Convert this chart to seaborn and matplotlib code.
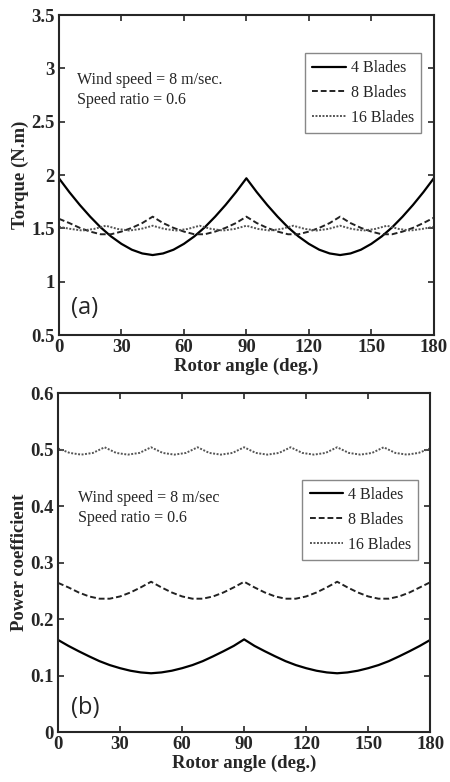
import numpy as np
import pandas as pd
import matplotlib
matplotlib.use("Agg")
import matplotlib.pyplot as plt
import seaborn as sns
from matplotlib.ticker import FuncFormatter

# rotor angle grids (deg.)
angle_5 = np.arange(0, 181, 5)          # for 4 and 8 blades
angle_16 = np.linspace(0, 180, 33)      # finer for 16 blades

labels = ["4 Blades", "8 Blades", "16 Blades"]

# (a) torque (N.m)
torque_4 = [1.97, 1.84, 1.72, 1.61, 1.51, 1.425, 1.355, 1.30, 1.265, 1.25,
            1.265, 1.30, 1.355, 1.425, 1.51, 1.61, 1.72, 1.84, 1.97,
            1.84, 1.72, 1.61, 1.51, 1.425, 1.355, 1.30, 1.265, 1.25,
            1.265, 1.30, 1.355, 1.425, 1.51, 1.61, 1.72, 1.84, 1.97]
torque_8 = [1.59, 1.55, 1.505, 1.47, 1.445, 1.445, 1.47, 1.505, 1.55,
            1.61, 1.55, 1.505, 1.47, 1.445, 1.445, 1.47, 1.505, 1.55,
            1.61, 1.55, 1.505, 1.47, 1.445, 1.445, 1.47, 1.505, 1.55,
            1.61, 1.55, 1.505, 1.47, 1.445, 1.445, 1.47, 1.505, 1.55,
            1.60]
torque_16 = [1.515, 1.495, 1.48, 1.495, 1.525, 1.495, 1.48, 1.495,
             1.525, 1.495, 1.48, 1.495, 1.525, 1.495, 1.48, 1.495,
             1.525, 1.495, 1.48, 1.495, 1.525, 1.495, 1.48, 1.495,
             1.525, 1.495, 1.48, 1.495, 1.525, 1.495, 1.48, 1.495,
             1.515]

# (b) power coefficient
cp_4 = [0.163, 0.1525, 0.143, 0.134, 0.1255, 0.1185, 0.113, 0.1085, 0.1055, 0.104,
        0.1055, 0.1085, 0.113, 0.1185, 0.1255, 0.134, 0.143, 0.1525, 0.164,
        0.1525, 0.143, 0.134, 0.1255, 0.1185, 0.113, 0.1085, 0.1055, 0.104,
        0.1055, 0.1085, 0.113, 0.1185, 0.1255, 0.134, 0.143, 0.1525, 0.163]
cp_8 = [0.264, 0.256, 0.247, 0.240, 0.236, 0.236, 0.240, 0.247, 0.256,
        0.266, 0.256, 0.247, 0.240, 0.236, 0.236, 0.240, 0.247, 0.256,
        0.266, 0.256, 0.247, 0.240, 0.236, 0.236, 0.240, 0.247, 0.256,
        0.266, 0.256, 0.247, 0.240, 0.236, 0.236, 0.240, 0.247, 0.256,
        0.265]
cp_16 = [0.502, 0.494, 0.491, 0.494, 0.504, 0.494, 0.491, 0.494,
         0.504, 0.494, 0.491, 0.494, 0.504, 0.494, 0.491, 0.494,
         0.504, 0.494, 0.491, 0.494, 0.504, 0.494, 0.491, 0.494,
         0.504, 0.494, 0.491, 0.494, 0.504, 0.494, 0.491, 0.494,
         0.502]

sns.set_style("ticks")
plt.rcParams["font.family"] = ["Liberation Serif", "DejaVu Serif"]

styles = {
    "4 Blades": dict(color="black", lw=1.6, ls="-"),
    "8 Blades": dict(color="#222222", lw=1.4, ls=(0, (3, 1.5))),
    "16 Blades": dict(color="#555555", lw=1.4, ls=(0, (1, 0.8))),
}

fig = plt.figure(figsize=(4.5, 7.82), dpi=100)
ax1 = fig.add_axes([0.131, 0.5716, 0.833, 0.409])
ax2 = fig.add_axes([0.129, 0.0639, 0.827, 0.4335])


def draw(ax, series, angles):
    for lab, y, x in zip(labels, series, angles):
        sns.lineplot(x=x, y=y, ax=ax, label=lab, **styles[lab])


draw(ax1, [torque_4, torque_8, torque_16], [angle_5, angle_5, angle_16])
draw(ax2, [cp_4, cp_8, cp_16], [angle_5, angle_5, angle_16])

fmt = FuncFormatter(lambda v, p: "%g" % round(v, 3))
for ax in (ax1, ax2):
    ax.set_xlim(0, 180)
    ax.set_xticks(range(0, 181, 30))
    ax.yaxis.set_major_formatter(fmt)
    ax.tick_params(direction="in", top=True, right=True, length=4, width=1.2,
                   labelsize=13.5, pad=3)
    for t in ax.get_xticklabels() + ax.get_yticklabels():
        t.set_fontweight("bold")
    for s in ax.spines.values():
        s.set_linewidth(1.5)
    ax.set_xlabel("Rotor angle (deg.)", fontsize=13.5, fontweight="bold", labelpad=1)
    leg = ax.legend(fontsize=11.5, loc="upper right", frameon=True, fancybox=False,
                    edgecolor="#888888", framealpha=1, labelspacing=0.55,
                    handlelength=2.1, handletextpad=0.3, borderpad=0.45,
                    borderaxespad=0.3)
    leg.get_frame().set_linewidth(1.0)

ax1.set_ylim(0.5, 3.5)
ax1.set_yticks(np.arange(0.5, 3.51, 0.5))
ax1.set_ylabel("Torque (N.m)", fontsize=13.5, fontweight="bold", labelpad=2)
ax1.legend_.set_bbox_to_anchor((0.979, 0.897), transform=ax1.transAxes)
ax1.text(8.5, 2.89, "Wind speed = 8 m/sec.", fontsize=11.5, va="center")
ax1.text(8.5, 2.70, "Speed ratio = 0.6", fontsize=11.5, va="center")
ax1.text(6, 0.75, "(a)", fontsize=17, va="center", family=["Open Sans", "DejaVu Sans"])

ax2.set_ylim(0, 0.6)
ax2.set_yticks(np.arange(0, 0.61, 0.1))
ax2.set_ylabel("Power coefficient", fontsize=13.5, fontweight="bold", labelpad=2)
ax2.legend_.set_bbox_to_anchor((0.981, 0.758), transform=ax2.transAxes)
ax2.text(9.5, 0.414, "Wind speed = 8 m/sec", fontsize=11.5, va="center")
ax2.text(9.5, 0.379, "Speed ratio = 0.6", fontsize=11.5, va="center")
ax2.text(6.5, 0.042, "(b)", fontsize=17, va="center", family=["Open Sans", "DejaVu Sans"])

fig.savefig("out.png", dpi=100)
